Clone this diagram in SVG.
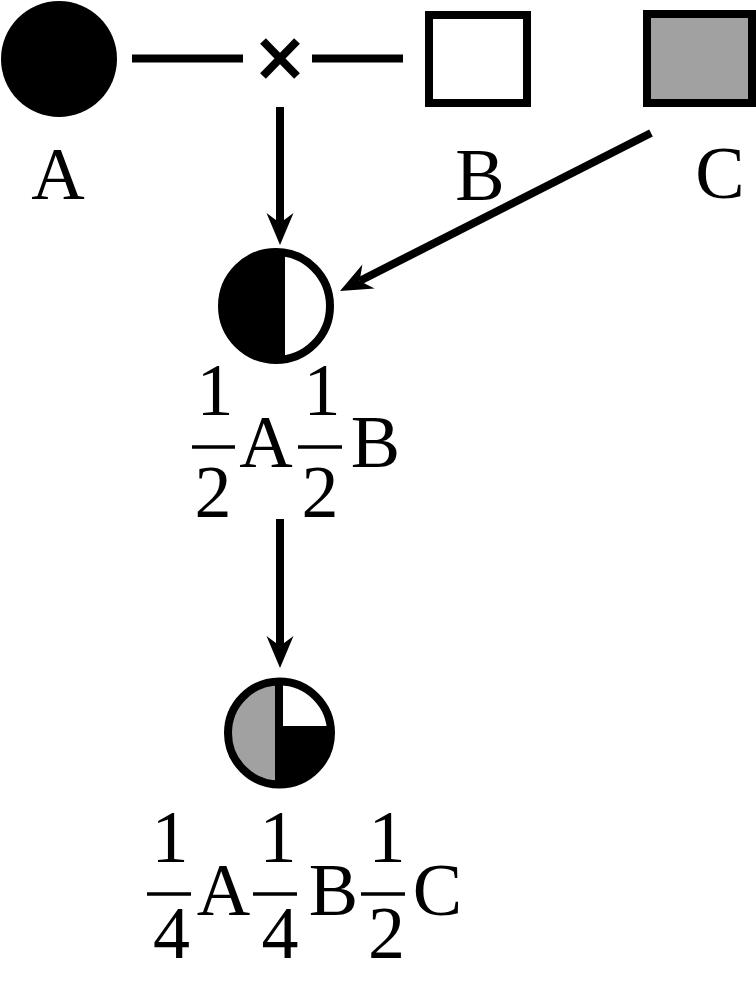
<svg xmlns="http://www.w3.org/2000/svg" width="756" height="983" viewBox="0 0 756 983">
<style>
.t{font-family:"Liberation Serif","Times New Roman",serif;font-size:74px;fill:#000;text-anchor:middle}
.ln{stroke:#000;stroke-width:8;fill:none}
.bar{stroke:#000;stroke-width:3.5}
</style>
<defs>
<marker id="ah" markerUnits="userSpaceOnUse" viewBox="-33 -15 35 30" markerWidth="35" markerHeight="30" refX="-22" refY="0" orient="auto">
<path d="M0,0 L-32,-13.5 L-22,0 L-32,13.5 Z" fill="#000"/>
</marker>
<clipPath id="c1"><circle cx="276" cy="306" r="54"/></clipPath>
<clipPath id="c2"><circle cx="279.5" cy="733" r="51.5"/></clipPath>
</defs>
<rect width="756" height="983" fill="#fff"/>
<g id="nodeA">
<circle cx="59" cy="59" r="58" fill="#000"/>
<text class="t" x="58" y="199">A</text>
</g>
<g id="cross">
<path class="ln" d="M263,41 L297,76 M263,76 L297,41"/>
</g>
<g id="nodeB">
<rect x="429" y="15" width="98" height="88" fill="#fff" stroke="#000" stroke-width="8"/>
<text class="t" x="480" y="200">B</text>
</g>
<g id="nodeC">
<rect x="647" y="14" width="105" height="89" fill="#a0a1a0" stroke="#000" stroke-width="8"/>
<text class="t" x="720" y="198">C</text>
</g>
<g id="nodeAB">
<g clip-path="url(#c1)">
<rect x="210" y="240" width="140" height="140" fill="#fff"/>
<rect x="210" y="240" width="75" height="140" fill="#000"/>
</g>
<circle cx="276" cy="306" r="54" fill="none" stroke="#000" stroke-width="8"/>
<text class="t" x="215" y="415">1</text>
<line class="bar" x1="192" y1="447" x2="235" y2="447"/>
<text class="t" x="213" y="517">2</text>
<text class="t" x="266" y="467">A</text>
<text class="t" x="322" y="415">1</text>
<line class="bar" x1="298" y1="447" x2="342" y2="447"/>
<text class="t" x="320" y="517">2</text>
<text class="t" x="375.5" y="467">B</text>
</g>
<g id="nodeABC">
<g clip-path="url(#c2)">
<rect x="220" y="670" width="120" height="130" fill="#fff"/>
<rect x="220" y="670" width="55" height="130" fill="#a0a1a0"/>
<rect x="275" y="726" width="65" height="70" fill="#000"/>
<rect x="275" y="670" width="8" height="63" fill="#000"/>
</g>
<circle cx="279.5" cy="733" r="51.5" fill="none" stroke="#000" stroke-width="8"/>
<text class="t" x="170" y="862">1</text>
<line class="bar" x1="147" y1="894" x2="191" y2="894"/>
<text class="t" x="171.5" y="958">4</text>
<text class="t" x="223.5" y="915">A</text>
<text class="t" x="278" y="862">1</text>
<line class="bar" x1="253" y1="894" x2="297" y2="894"/>
<text class="t" x="280" y="958">4</text>
<text class="t" x="333.5" y="915">B</text>
<text class="t" x="387" y="862">1</text>
<line class="bar" x1="361" y1="894" x2="405" y2="894"/>
<text class="t" x="386.5" y="958">2</text>
<text class="t" x="437.5" y="915">C</text>
</g>
<g id="connectors">
<line class="ln" x1="132" y1="58.5" x2="243" y2="58.5"/>
<line class="ln" x1="312" y1="58.5" x2="403" y2="58.5"/>
<line class="ln" x1="280" y1="107" x2="280" y2="223" marker-end="url(#ah)"/>
<line class="ln" x1="651" y1="133" x2="359.6" y2="281" marker-end="url(#ah)"/>
<line class="ln" x1="280" y1="519" x2="280" y2="646" marker-end="url(#ah)"/>
</g>
</svg>
